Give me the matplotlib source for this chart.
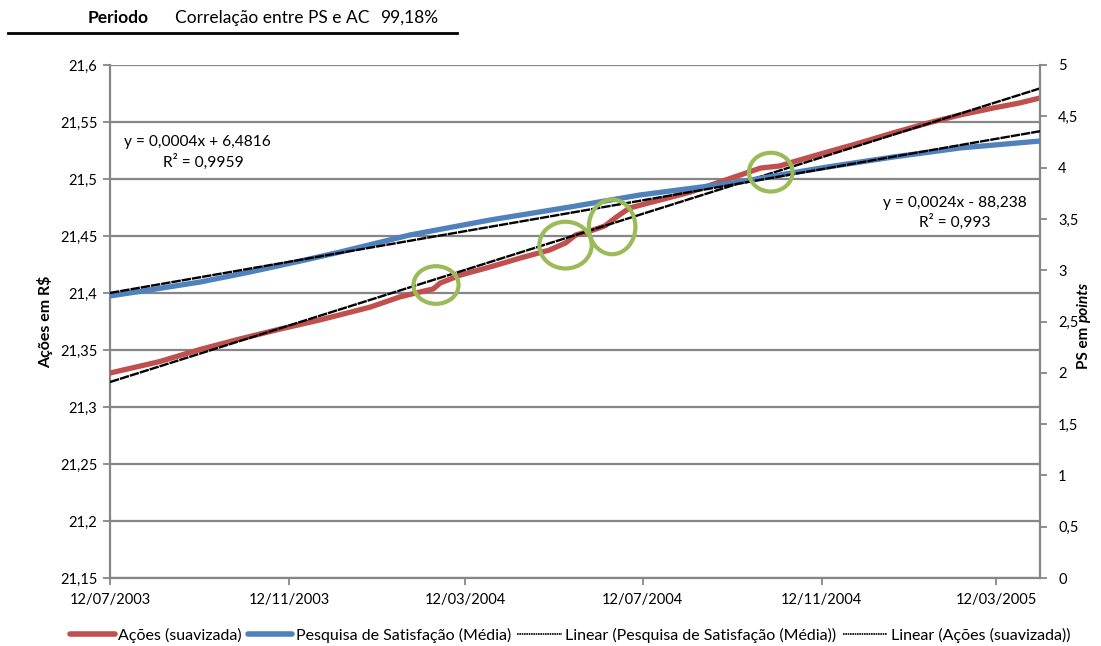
import matplotlib
matplotlib.use("Agg")
import matplotlib.pyplot as plt
import matplotlib.dates as mdates
from matplotlib.patches import Ellipse
from matplotlib.lines import Line2D
from matplotlib.ticker import FuncFormatter
import numpy as np
import pandas as pd

plt.rcParams['font.family'] = ['Lato', 'DejaVu Sans']

# Ações (suavizada) - eixo esquerdo, R$
acoes_datas = [
    "2003-07-12", "2003-08-15", "2003-09-12", "2003-10-09", "2003-11-06",
    "2003-12-03", "2004-01-07", "2004-01-27", "2004-02-13", "2004-02-19",
    "2004-02-24", "2004-03-09", "2004-03-29", "2004-04-19", "2004-05-09",
    "2004-05-20", "2004-05-27", "2004-06-06", "2004-06-16", "2004-06-24",
    "2004-07-03", "2004-07-24", "2004-08-14", "2004-09-03", "2004-09-17",
    "2004-10-01", "2004-10-14", "2004-10-23", "2004-11-16", "2004-12-08",
    "2004-12-31", "2005-01-24", "2005-02-15", "2005-03-10", "2005-03-28",
    "2005-04-11",
]
acoes_valores = [
    21.3298, 21.3398, 21.3505, 21.3596, 21.3684,
    21.3763, 21.3877, 21.3965, 21.4018, 21.4035,
    21.4088, 21.4158, 21.4228, 21.4307, 21.4377,
    21.4439, 21.4509, 21.4544, 21.4588, 21.4667,
    21.4746, 21.4816, 21.4886, 21.4974, 21.5035,
    21.5096, 21.5114, 21.5149, 21.5237, 21.5316,
    21.5404, 21.5491, 21.5561, 21.5623, 21.5667,
    21.5711,
]

# Pesquisa de Satisfação (Média) - eixo direito, pontos
ps_datas = [
    "2003-07-12", "2003-08-08", "2003-09-12", "2003-10-16", "2003-11-20",
    "2003-12-17", "2004-02-03", "2004-03-29", "2004-05-23", "2004-07-10",
    "2004-09-17", "2004-10-14", "2004-11-16", "2004-12-31", "2005-02-15",
    "2005-04-11",
]
ps_valores = [
    2.749, 2.807, 2.885, 2.982, 3.090,
    3.177, 3.343, 3.489, 3.616, 3.733,
    3.860, 3.928, 4.006, 4.103, 4.191,
    4.259,
]

tick_datas = ["2003-07-12", "2003-11-12", "2004-03-12", "2004-07-12",
              "2004-11-12", "2005-03-12"]

# Pontos de destaque sobre a série de ações
destaque_datas = ["2004-02-21", "2004-05-20", "2004-06-21", "2004-10-08"]
destaque_valores = [21.407, 21.442, 21.458, 21.506]

correlacao = "99,18%"
eq_acoes = ("y = 0,0004x + 6,4816", "R² = 0,9959")
eq_ps = ("y = 0,0024x - 88,238", "R² = 0,993")

RED = "#C0504D"
BLUE = "#4F81BD"
GREEN = "#9BBB59"
GRID = "#868686"
FS = 10.5

W, H = 1101, 646
fig = plt.figure(figsize=(W / 100, H / 100), dpi=100)
ax = fig.add_axes([110 / W, 1 - 578 / H, 930 / W, 513 / H])
ax2 = ax.twinx()

xa = mdates.date2num(pd.to_datetime(acoes_datas))
xp = mdates.date2num(pd.to_datetime(ps_datas))
ya = np.array(acoes_valores)
yp = np.array(ps_valores)
x0, x1 = xa[0], xa[-1]

# séries
ax.plot(xa, ya, color=RED, lw=3.8, solid_capstyle="round", zorder=3)
ax2.plot(xp, yp, color=BLUE, lw=3.8, solid_capstyle="round", zorder=3)

# tendências lineares
xx = np.array([x0, x1])
ca = np.polyfit(xa, ya, 1)
cp = np.polyfit(xp, yp, 1)
trend_style = dict(color="black", lw=1.7, ls=(0, (4, 0.4)), zorder=4)
ax.plot(xx, np.polyval(ca, xx), **trend_style)
ax2.plot(xx, np.polyval(cp, xx), **trend_style)

# círculos de destaque
sizes = [(31, 0.033), (36, 0.041), (32, 0.048), (30, 0.034)]
for d, v, (w, h) in zip(destaque_datas, destaque_valores, sizes):
    e = Ellipse((mdates.date2num(pd.Timestamp(d)), v), w, h, fill=False,
                edgecolor=GREEN, lw=3.0, transform=ax.transData, zorder=6)
    ax2.add_artist(e)

# eixos
ax.set_xlim(x0, x1)
ax.set_ylim(21.15, 21.6)
ax2.set_ylim(0, 5)
ax.set_yticks(np.round(np.arange(21.15, 21.6001, 0.05), 2))
ax2.set_yticks(np.arange(0, 5.001, 0.5))
ax.set_xticks(mdates.date2num(pd.to_datetime(tick_datas)))
ax.xaxis.set_major_formatter(mdates.DateFormatter("%d/%m/%Y"))

comma = FuncFormatter(lambda v, p: f"{round(v, 2):g}".replace(".", ","))
ax.yaxis.set_major_formatter(comma)
ax2.yaxis.set_major_formatter(comma)

ax.grid(axis="y", color=GRID, lw=1.6, zorder=0)
ax.set_axisbelow(True)
for a in (ax, ax2):
    for s in a.spines.values():
        s.set_visible(False)
ax.spines["left"].set_visible(True)
ax.spines["bottom"].set_visible(True)
ax2.spines["right"].set_visible(True)
for s in (ax.spines["left"], ax.spines["bottom"], ax2.spines["right"]):
    s.set_color(GRID)
    s.set_linewidth(1.6)

ax.tick_params(axis="both", direction="out", length=5, width=1.3, color=GRID,
               labelsize=FS, pad=4)
ax.tick_params(axis="x", pad=6)
ax2.tick_params(axis="y", direction="out", length=5, width=1.3, color=GRID,
                labelsize=FS, pad=8)

ax.set_ylabel(r"Ações em R\$", fontsize=11.5, fontweight="bold", labelpad=5)

# rótulo do eixo direito com "points" em itálico
t1 = fig.text(1084 / W, 1 - 369 / H, "PS em", rotation=90, ha="center",
              va="bottom", fontsize=11, fontweight="bold")
fig.canvas.draw()
bb = t1.get_window_extent()
fig.text(1084 / W, (bb.y1 + 4) / H, "points", rotation=90, ha="center",
         va="bottom", fontsize=11, fontweight="bold", fontstyle="italic")

# equações das tendências
EQ = 11.2
fig.text(197 / W, 1 - 142 / H, eq_acoes[0], ha="center", va="center", fontsize=EQ)
fig.text(203 / W, 1 - 162 / H, eq_acoes[1], ha="center", va="center", fontsize=EQ)
fig.text(955 / W, 1 - 203 / H, eq_ps[0], ha="center", va="center", fontsize=EQ)
fig.text(955 / W, 1 - 222 / H, eq_ps[1], ha="center", va="center", fontsize=EQ)

# cabeçalho
HF = 12.5
fig.text(88 / W, 1 - 18 / H, "Periodo", ha="left", va="center",
         fontsize=HF, fontweight="bold")
fig.text(175 / W, 1 - 18 / H, "Correlação entre PS e AC", ha="left",
         va="center", fontsize=HF)
fig.text(380 / W, 1 - 18 / H, correlacao, ha="left", va="center", fontsize=HF)
fig.add_artist(Line2D([8 / W, 457 / W], [1 - 33 / H, 1 - 33 / H],
                      color="black", lw=2))

# legenda
handles = [
    Line2D([], [], color=RED, lw=4, solid_capstyle="round"),
    Line2D([], [], color=BLUE, lw=4, solid_capstyle="round"),
    Line2D([], [], color="black", lw=1.2, ls=(0, (1, 0.4))),
    Line2D([], [], color="black", lw=1.2, ls=(0, (1, 0.4))),
]
labels = ["Ações (suavizada)", "Pesquisa de Satisfação (Média)",
          "Linear (Pesquisa de Satisfação (Média))", "Linear (Ações (suavizada))"]
fig.legend(handles, labels, loc="center", bbox_to_anchor=(570 / W, 1 - 635 / H),
           ncol=4, frameon=False, fontsize=11.5, handlelength=2.8,
           handletextpad=0.2, columnspacing=0.4)

fig.savefig("out.png", dpi=100)
